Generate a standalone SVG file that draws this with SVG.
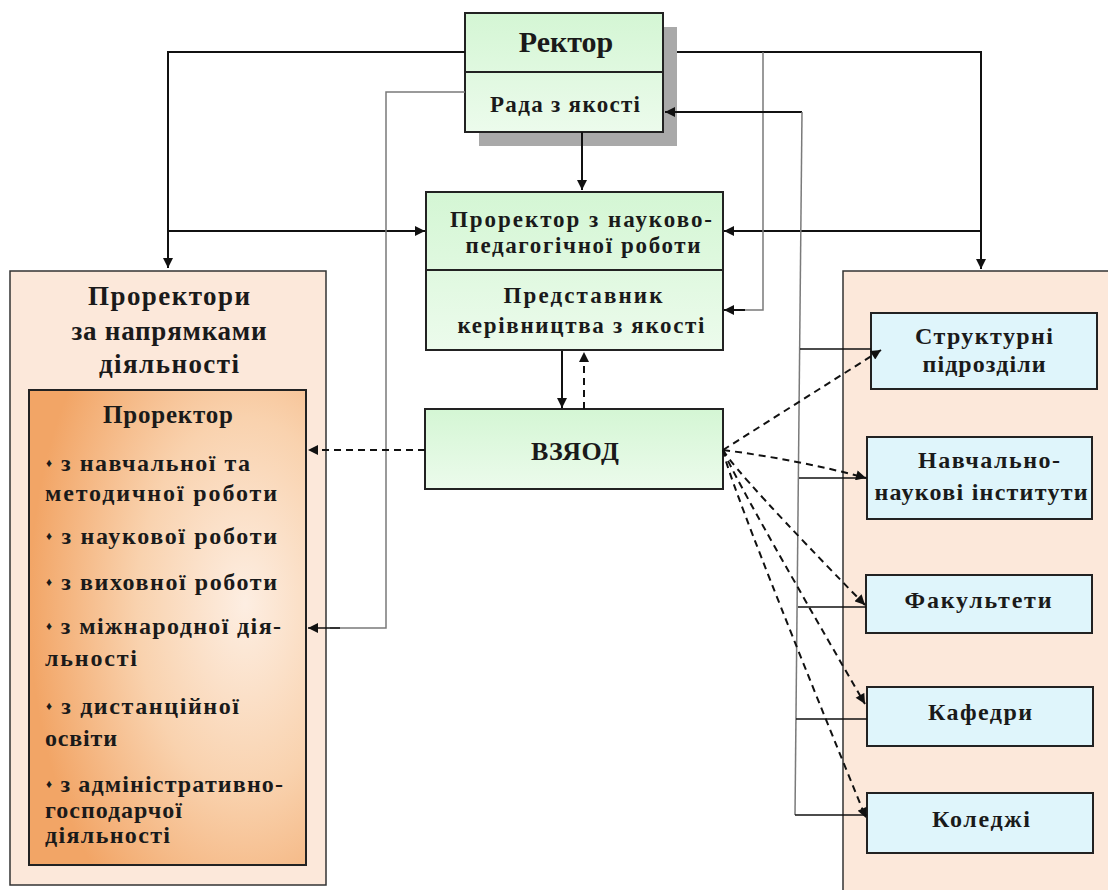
<svg xmlns="http://www.w3.org/2000/svg" width="1108" height="890" viewBox="0 0 1108 890">
<defs>
<style>
.t{font-family:"Liberation Serif","Times New Roman",serif;font-weight:bold;fill:#1a1a1a;}
.box{stroke:#222;stroke-width:2;}
.green{fill:url(#gGreen);}
.cyan{fill:#dff5fb;}
.peach{fill:#fce8da;stroke:#333;stroke-width:1.5;}
.ln{fill:none;stroke:#111;stroke-width:2;}
.gl{fill:none;stroke:#7a7a7a;stroke-width:1.5;}
.thin{fill:none;stroke:#111;stroke-width:1.5;}
.dash{fill:none;stroke:#111;stroke-width:2;stroke-dasharray:7,5;}
</style>
<linearGradient id="gGreen" x1="0" y1="0" x2="0" y2="1">
<stop offset="0" stop-color="#d4f6d4"/>
<stop offset="1" stop-color="#ecfbec"/>
</linearGradient>
<radialGradient id="gOrange" cx="0.78" cy="0.45" r="0.78">
<stop offset="0" stop-color="#fdeee2"/>
<stop offset="0.5" stop-color="#f9d2ae"/>
<stop offset="1" stop-color="#f2a566"/>
</radialGradient>
<marker id="ar" viewBox="0 0 10 10" refX="10" refY="5" markerWidth="11" markerHeight="10" markerUnits="userSpaceOnUse" orient="auto">
<path d="M0,0 L10,5 L0,10 z" fill="#111"/>
</marker>
</defs>

<!-- containers -->
<g id="vice-rectors">
<rect class="peach" x="10" y="271" width="316" height="614"/>
<text class="t" x="169" y="305" font-size="27" text-anchor="middle" textLength="162" lengthAdjust="spacing">Проректори</text>
<text class="t" x="169" y="340" font-size="27" text-anchor="middle" textLength="195" lengthAdjust="spacing">за напрямками</text>
<text class="t" x="169" y="373" font-size="27" text-anchor="middle" textLength="140" lengthAdjust="spacing">діяльності</text>
</g>
<g id="units">
<rect class="peach" x="843" y="271" width="290" height="640"/>
</g>

<!-- Rector -->
<g id="rector">
<rect x="479" y="27" width="198" height="119" fill="#a9a9a9"/>
<rect class="box green" x="465" y="13" width="198" height="119"/>
<line x1="465" y1="72" x2="663" y2="72" stroke="#222" stroke-width="2"/>
<text class="t" x="566" y="52" font-size="30" text-anchor="middle">Ректор</text>
<text class="t" x="565" y="112" font-size="23" text-anchor="middle" textLength="150" lengthAdjust="spacing">Рада з якості</text>
</g>

<!-- Prorector -->
<g id="prorector">
<rect class="box green" x="426" y="192" width="297" height="158"/>
<line x1="426" y1="270" x2="723" y2="270" stroke="#222" stroke-width="2"/>
<text class="t" x="581" y="227" font-size="23" text-anchor="middle" textLength="262" lengthAdjust="spacing">Проректор з науково-</text>
<text class="t" x="583" y="253" font-size="23" text-anchor="middle" textLength="235" lengthAdjust="spacing">педагогічної роботи</text>
<text class="t" x="583" y="303" font-size="23" text-anchor="middle" textLength="159" lengthAdjust="spacing">Представник</text>
<text class="t" x="581" y="333" font-size="23" text-anchor="middle" textLength="247" lengthAdjust="spacing">керівництва з якості</text>
</g>

<!-- VZYAOD -->
<g id="vzyaod">
<rect class="box green" x="425" y="409" width="298" height="80"/>
<text class="t" x="575" y="460" font-size="26" text-anchor="middle" textLength="88" lengthAdjust="spacing">ВЗЯОД</text>
</g>

<!-- Left inner list -->
<g id="vice-rector-list">
<rect x="29" y="390" width="277" height="475" fill="url(#gOrange)" stroke="#222" stroke-width="2"/>
<text class="t" x="168" y="423" font-size="25" text-anchor="middle" textLength="130" lengthAdjust="spacing">Проректор</text>
<g font-size="24">
<text class="t" x="46" y="471" textLength="204" lengthAdjust="spacing"><tspan font-size="12" dy="-4">♦</tspan><tspan dy="4"> з навчальної та</tspan></text>
<text class="t" x="45" y="501" textLength="232" lengthAdjust="spacing">методичної роботи</text>
<text class="t" x="46" y="544" textLength="231" lengthAdjust="spacing"><tspan font-size="12" dy="-4">♦</tspan><tspan dy="4"> з наукової роботи</tspan></text>
<text class="t" x="46" y="590" textLength="231" lengthAdjust="spacing"><tspan font-size="12" dy="-4">♦</tspan><tspan dy="4"> з виховної роботи</tspan></text>
<text class="t" x="46" y="634" textLength="235" lengthAdjust="spacing"><tspan font-size="12" dy="-4">♦</tspan><tspan dy="4"> з міжнародної дія-</tspan></text>
<text class="t" x="45" y="666" textLength="92" lengthAdjust="spacing">льності</text>
<text class="t" x="46" y="714" textLength="193" lengthAdjust="spacing"><tspan font-size="12" dy="-4">♦</tspan><tspan dy="4"> з дистанційної</tspan></text>
<text class="t" x="45" y="746" textLength="72" lengthAdjust="spacing">освіти</text>
<text class="t" x="46" y="792" textLength="237" lengthAdjust="spacing"><tspan font-size="12" dy="-4">♦</tspan><tspan dy="4"> з адміністративно-</tspan></text>
<text class="t" x="45" y="818" textLength="137" lengthAdjust="spacing">господарчої</text>
<text class="t" x="45" y="843" textLength="125" lengthAdjust="spacing">діяльності</text>
</g>
</g>

<!-- Right units -->
<g id="structural">
<rect class="box cyan" x="871" y="313" width="226" height="76"/>
<text class="t" x="984" y="344" font-size="24" text-anchor="middle" textLength="138" lengthAdjust="spacing">Структурні</text>
<text class="t" x="984" y="372" font-size="24" text-anchor="middle" textLength="123" lengthAdjust="spacing">підрозділи</text>
</g>
<g id="institutes">
<rect class="box cyan" x="867" y="437" width="225" height="82"/>
<text class="t" x="989" y="468" font-size="24" text-anchor="middle" textLength="142" lengthAdjust="spacing">Навчально-</text>
<text class="t" x="981" y="500" font-size="24" text-anchor="middle" textLength="213" lengthAdjust="spacing">наукові інститути</text>
</g>
<g id="faculties">
<rect class="box cyan" x="866" y="575" width="226" height="58"/>
<text class="t" x="978" y="608" font-size="24" text-anchor="middle" textLength="147" lengthAdjust="spacing">Факультети</text>
</g>
<g id="departments">
<rect class="box cyan" x="867" y="687" width="226" height="59"/>
<text class="t" x="980" y="720" font-size="24" text-anchor="middle" textLength="104" lengthAdjust="spacing">Кафедри</text>
</g>
<g id="colleges">
<rect class="box cyan" x="867" y="793" width="226" height="60"/>
<text class="t" x="981" y="827" font-size="24" text-anchor="middle" textLength="98" lengthAdjust="spacing">Коледжі</text>
</g>

<!-- connectors -->
<g id="connectors">
<path class="ln" d="M465,52 H168 V268" marker-end="url(#ar)"/>
<path class="ln" d="M168,231 H425" marker-end="url(#ar)"/>
<path class="ln" d="M677,52 H981 V269" marker-end="url(#ar)"/>
<path class="ln" d="M981,231 H724" marker-end="url(#ar)"/>
<path class="gl" d="M763,52 V310 H740"/>
<path class="ln" d="M745,310 H724" marker-end="url(#ar)"/>
<path class="gl" d="M465,92 H386 V628 H330"/>
<path class="thin" d="M340,628 H308" marker-end="url(#ar)"/>
<path class="ln" d="M802,112 H665" marker-end="url(#ar)"/>
<path class="gl" d="M802,112 L795,815"/>
<path class="thin" d="M800,349 H871"/>
<path class="thin" d="M799,478 H867"/>
<path class="thin" d="M798,607 H866"/>
<path class="thin" d="M796,719 H867"/>
<path class="thin" d="M795,815 H867"/>
<path class="ln" d="M582,132 V190" marker-end="url(#ar)"/>
<path class="ln" d="M562,351 V408" marker-end="url(#ar)"/>
<path class="dash" d="M584,409 V352" marker-end="url(#ar)"/>
<path class="dash" d="M425,450 H308" marker-end="url(#ar)"/>
<path class="dash" d="M723,450 L881,350" marker-end="url(#ar)"/>
<path class="dash" d="M723,450 Q800,460 866,478" marker-end="url(#ar)"/>
<path class="dash" d="M723,450 Q738,475 865,605" marker-end="url(#ar)"/>
<path class="dash" d="M723,450 Q735,480 865,704" marker-end="url(#ar)"/>
<path class="dash" d="M723,450 Q728,480 866,818" marker-end="url(#ar)"/>
</g>
</svg>
